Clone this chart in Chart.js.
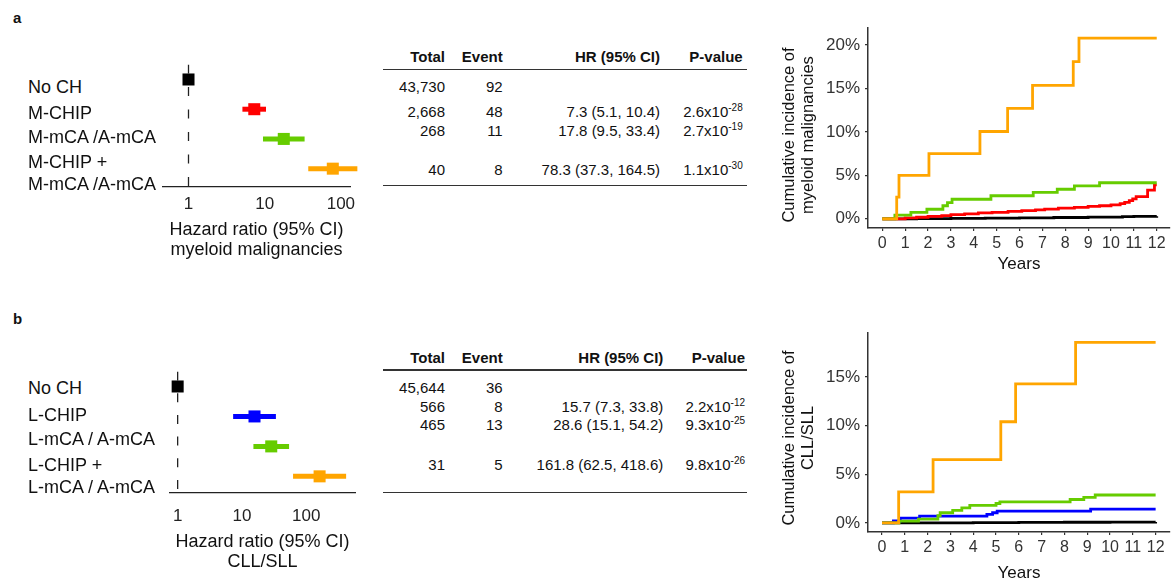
<!DOCTYPE html>
<html>
<head>
<meta charset="utf-8">
<script src="https://cdn.jsdelivr.net/npm/chart.js@4.4.1/dist/chart.umd.min.js"></script>
<style>
  html, body { margin: 0; padding: 0; background: #fff; }
  #fig { position: relative; width: 1175px; height: 582px; overflow: hidden;
         font-family: "Liberation Sans", Arial, Helvetica, sans-serif; color: #111; }
  #fig canvas { position: absolute; }
  .t { position: absolute; white-space: pre; }
  .rule { position: absolute; height: 1.5px; background: #333; }
  sup { font-size: 10px; vertical-align: 6px; line-height: 0; }
</style>
</head>
<body>
<div id="fig">
  <canvas id="forestA" width="228" height="204" style="left:143px;top:56px"></canvas>
  <canvas id="forestB" width="226" height="209" style="left:150px;top:363px"></canvas>
  <canvas id="incA" width="403" height="262" style="left:772px;top:13px"></canvas>
  <canvas id="incB" width="403" height="266" style="left:772px;top:318px"></canvas>
</div>
<script>
// ---- panel a: myeloid malignancies ----
const groupsA = ['No CH', 'M-CHIP', 'M-mCA /A-mCA', 'M-CHIP +\nM-mCA /A-mCA'];
const totalA = [43730, 2668, 268, 40];
const eventA = [92, 48, 11, 8];
const hrA = [1, 7.3, 17.8, 78.3];
const loA = [null, 5.1, 9.5, 37.3];
const hiA = [null, 10.4, 33.4, 164.5];
const pMantA = [null, 2.6, 2.7, 1.1];
const pExpA = [null, -28, -19, -30];
const colorsA = ['#000000', '#ff0000', '#66cc00', '#ffa500'];

// ---- panel b: CLL/SLL ----
const groupsB = ['No CH', 'L-CHIP', 'L-mCA / A-mCA', 'L-CHIP +\nL-mCA / A-mCA'];
const totalB = [45644, 566, 465, 31];
const eventB = [36, 8, 13, 5];
const hrB = [1, 15.7, 28.6, 161.8];
const loB = [null, 7.3, 15.1, 62.5];
const hiB = [null, 33.8, 54.2, 418.6];
const pMantB = [null, 2.2, 9.3, 9.8];
const pExpB = [null, -12, -25, -26];
const colorsB = ['#000000', '#0000ff', '#66cc00', '#ffa500'];

const hrTicks = [1, 10, 100];
const yearTicks = [0, 1, 2, 3, 4, 5, 6, 7, 8, 9, 10, 11, 12];
const pctTicksA = [0, 5, 10, 15, 20];
const pctTicksB = [0, 5, 10, 15];

// cumulative incidence (%), [year, value] at each step
const incA_none = [[0,0],[1.5,0.02],[3,0.05],[4.5,0.08],[6,0.11],[7.5,0.15],[9,0.19],[10.5,0.24],[11,0.27],[12,0.28]];
const incA_chip = [[0,0],[1.0,0.1],[1.5,0.18],[2.0,0.27],[2.6,0.37],[3.0,0.47],[3.6,0.57],[4.2,0.67],[4.8,0.75],[5.5,0.85],[6.1,0.95],[6.7,1.03],[7.1,1.12],[7.7,1.22],[8.4,1.32],[9.0,1.42],[9.5,1.5],[10.0,1.6],[10.4,1.75],[10.6,1.9],[10.8,2.1],[10.95,2.3],[11.1,2.55],[11.6,3.3],[11.9,3.9],[12,3.9]];
const incA_mca = [[0,0],[0.55,0.42],[1.25,0.75],[1.95,1.1],[2.65,1.5],[2.85,1.85],[3.05,2.25],[4.75,2.65],[6.6,3.05],[7.65,3.4],[8.4,3.8],[9.5,4.15],[12,4.15]];
const incA_both = [[0,0],[0.63,2.5],[0.73,5.0],[2.04,7.5],[4.27,10.05],[5.48,12.7],[6.57,15.35],[8.35,18.1],[8.6,20.8],[12,20.8]];

const incB_none = [[0,0],[2,0.01],[4,0.03],[6,0.05],[8,0.07],[10,0.09],[12,0.1]];
const incB_chip = [[0,0],[0.5,0.2],[0.8,0.5],[1.65,0.7],[4.6,0.88],[4.85,1.05],[5.05,1.22],[9.15,1.43],[12,1.43]];
const incB_mca = [[0,0],[0.75,0.18],[1.6,0.4],[2.45,0.75],[2.55,1.05],[3.1,1.3],[3.5,1.55],[3.85,1.8],[5.0,2.0],[5.17,2.17],[8.25,2.41],[8.85,2.62],[9.35,2.87],[12,2.87]];
const incB_both = [[0,0],[0.73,3.2],[2.24,6.5],[5.21,10.4],[5.86,14.3],[8.49,18.55],[12,18.55]];

Chart.defaults.font.family = '"Liberation Sans", Arial, Helvetica, sans-serif';
const fig = document.getElementById('fig');

function put(html, x, y, o = {}) {
  const d = document.createElement('div');
  d.className = 't';
  d.innerHTML = html;
  const size = o.size || 15;
  const lh = o.lh || Math.round(size * 1.2);
  d.style.fontSize = size + 'px';
  d.style.lineHeight = lh + 'px';
  if (o.bold) d.style.fontWeight = 'bold';
  if (o.align === 'right') d.style.right = (1175 - x) + 'px';
  else d.style.left = x + 'px';
  d.style.top = (y - (o.lines || 1) * lh / 2) + 'px';
  fig.appendChild(d);
}

function rule(x1, x2, y) {
  const d = document.createElement('div');
  d.className = 'rule';
  d.style.left = x1 + 'px';
  d.style.width = (x2 - x1) + 'px';
  d.style.top = (y - 0.75) + 'px';
  fig.appendChild(d);
}

function yTitle(lines, cx, cy) {
  const d = document.createElement('div');
  d.className = 't';
  d.style.cssText = `left:${cx}px;top:${cy}px;font-size:16.5px;line-height:18.5px;text-align:center;` +
    'transform:translate(-50%,-50%) rotate(-90deg);';
  d.textContent = lines.join('\n');
  fig.appendChild(d);
}

function groupLabels(groups, ys) {
  groups.forEach((g, i) => {
    const n = g.split('\n').length;
    put(g, 28, ys[i], {size: 18, lh: 22, lines: n});
  });
}

function table(cols, headY, rowY, rules, total, event, hr, lo, hi, pm, pe) {
  ['Total', 'Event', 'HR (95% CI)', 'P-value'].forEach((h, j) =>
    put(h, cols[j], headY, {bold: true, align: 'right'}));
  total.forEach((v, i) => {
    put(v.toLocaleString('en-US'), cols[0], rowY[i], {align: 'right'});
    put(String(event[i]), cols[1], rowY[i], {align: 'right'});
    if (lo[i] == null) return;
    put(`${hr[i].toFixed(1)} (${lo[i].toFixed(1)}, ${hi[i].toFixed(1)})`, cols[2], rowY[i], {align: 'right'});
    put(`${pm[i].toFixed(1)}x10<sup>${pe[i]}</sup>`, cols[3], rowY[i], {align: 'right'});
  });
  rules.forEach(y => rule(383, 747, y));
}

function forest(id, hr, lo, hi, colors, x, y, tickPad, title, dash) {
  const datasets = [{
    type: 'scatter',
    data: hr.map((v, i) => ({x: v, y: i})),
    pointStyle: 'rect', pointRadius: 8.5, pointHoverRadius: 8.5,
    backgroundColor: colors, borderColor: colors, borderWidth: 0, clip: false
  }];
  hr.forEach((v, i) => {
    if (lo[i] == null) return;
    datasets.push({
      type: 'scatter', showLine: true,
      data: [{x: lo[i], y: i}, {x: hi[i], y: i}],
      borderColor: colors[i], borderWidth: 5, pointRadius: 0, clip: false
    });
  });
  // reference line at HR = 1
  datasets.push({
    type: 'scatter', showLine: true,
    data: [{x: 1, y: y.min}, {x: 1, y: y.max}],
    borderColor: '#222', borderWidth: 1.3, borderDash: dash, pointRadius: 0
  });

  new Chart(document.getElementById(id), {
    type: 'scatter',
    data: {datasets},
    options: {
      responsive: false, animation: false, events: [],
      layout: {padding: {left: 20, right: 21, top: 6, bottom: 0}},
      plugins: {legend: {display: false}, tooltip: {enabled: false}},
      scales: {
        x: {
          type: 'logarithmic', min: x.min, max: x.max, bounds: 'data',
          afterBuildTicks: s => { s.ticks = hrTicks.map(v => ({value: v})); },
          afterFit: s => { s.height = x.height; },
          grid: {display: false, drawTicks: false},
          border: {display: true, color: '#222', width: 1.3},
          ticks: {padding: tickPad, color: '#222', font: {size: 17, lineHeight: 1.2},
                  maxRotation: 0, autoSkip: false, callback: v => String(v)},
          title: {display: true, text: title, color: '#111', padding: 0,
                  font: {size: 18, lineHeight: 1.111}}
        },
        y: {type: 'linear', display: false, reverse: true, min: y.min, max: y.max}
      }
    }
  });
}

function incidence(id, curves, colors, x, y, pctTicks) {
  const axisGrid = {display: true, drawOnChartArea: false, drawTicks: true, tickLength: 3,
                    color: '#333', lineWidth: 1.2};
  new Chart(document.getElementById(id), {
    type: 'line',
    data: {
      datasets: curves.map((c, i) => ({
        data: c.map(p => ({x: p[0], y: p[1]})),
        borderColor: colors[i], borderWidth: 2.8, pointRadius: 0,
        stepped: true, fill: false
      }))
    },
    options: {
      responsive: false, animation: false, events: [],
      layout: {padding: {left: 0, right: 5, top: 5, bottom: 0}},
      plugins: {legend: {display: false}, tooltip: {enabled: false}},
      scales: {
        x: {
          type: 'linear', min: x.min, max: x.max,
          afterBuildTicks: s => { s.ticks = yearTicks.map(v => ({value: v})); },
          afterFit: s => { s.height = x.height; },
          grid: axisGrid,
          border: {display: true, color: '#333', width: 1.5},
          ticks: {padding: 3, color: '#333', font: {size: 16, lineHeight: 1.2},
                  maxRotation: 0, autoSkip: false},
          title: {display: true, text: 'Years', color: '#111', padding: 0,
                  font: {size: 17, lineHeight: 1.2}}
        },
        y: {
          type: 'linear', min: y.min, max: y.max,
          afterBuildTicks: s => { s.ticks = pctTicks.map(v => ({value: v})); },
          afterFit: s => { s.width = 96; },
          grid: axisGrid,
          border: {display: true, color: '#333', width: 1.5},
          ticks: {padding: 5, color: '#333', font: {size: 17, lineHeight: 1.2},
                  callback: v => v + '%'}
        }
      }
    }
  });
}

// panel letters
put('a', 13, 17.5, {size: 15, bold: true});
put('b', 13, 319, {size: 15, bold: true});

// panel a
groupLabels(groupsA, [86.7, 112.7, 136.7, 173.3]);
forest('forestA', hrA, loA, hiA, colorsA,
  {min: 0.4627, max: 131.7, height: 73}, {min: -0.504, max: 3.617}, 7.5,
  ['Hazard ratio (95% CI)', 'myeloid malignancies'], [9, 13.5]);
table([445, 502.7, 660, 742.7], 56.7, [86.7, 111.7, 130.7, 170], [69.3, 185.7],
  totalA, eventA, hrA, loA, hiA, pMantA, pExpA);
incidence('incA', [incA_both, incA_mca, incA_chip, incA_none],
  [colorsA[3], colorsA[2], colorsA[1], colorsA[0]],
  {min: -0.625, max: 12.58, height: 47}, {min: -1.06, max: 21.94}, pctTicksA);
yTitle(['Cumulative incidence of', 'myeloid malignancies'], 797, 135);

// panel b
groupLabels(groupsB, [388.3, 415, 439.3, 475.5]);
forest('forestB', hrB, loB, hiB, colorsB,
  {min: 0.760, max: 575.4, height: 79}, {min: -0.5, max: 3.556}, 13.5,
  ['Hazard ratio (95% CI)', 'CLL/SLL'], [9, 12.7]);
table([445, 502.7, 663.3, 745], 358.3, [388.3, 406.7, 425, 465], [370, 492.7],
  totalB, eventB, hrB, loB, hiB, pMantB, pExpB);
incidence('incB', [incB_both, incB_mca, incB_chip, incB_none],
  [colorsB[3], colorsB[2], colorsB[1], colorsB[0]],
  {min: -0.614, max: 12.63, height: 52}, {min: -0.93, max: 19.5}, pctTicksB);
yTitle(['Cumulative incidence of', 'CLL/SLL'], 797, 438);
</script>
</body>
</html>
